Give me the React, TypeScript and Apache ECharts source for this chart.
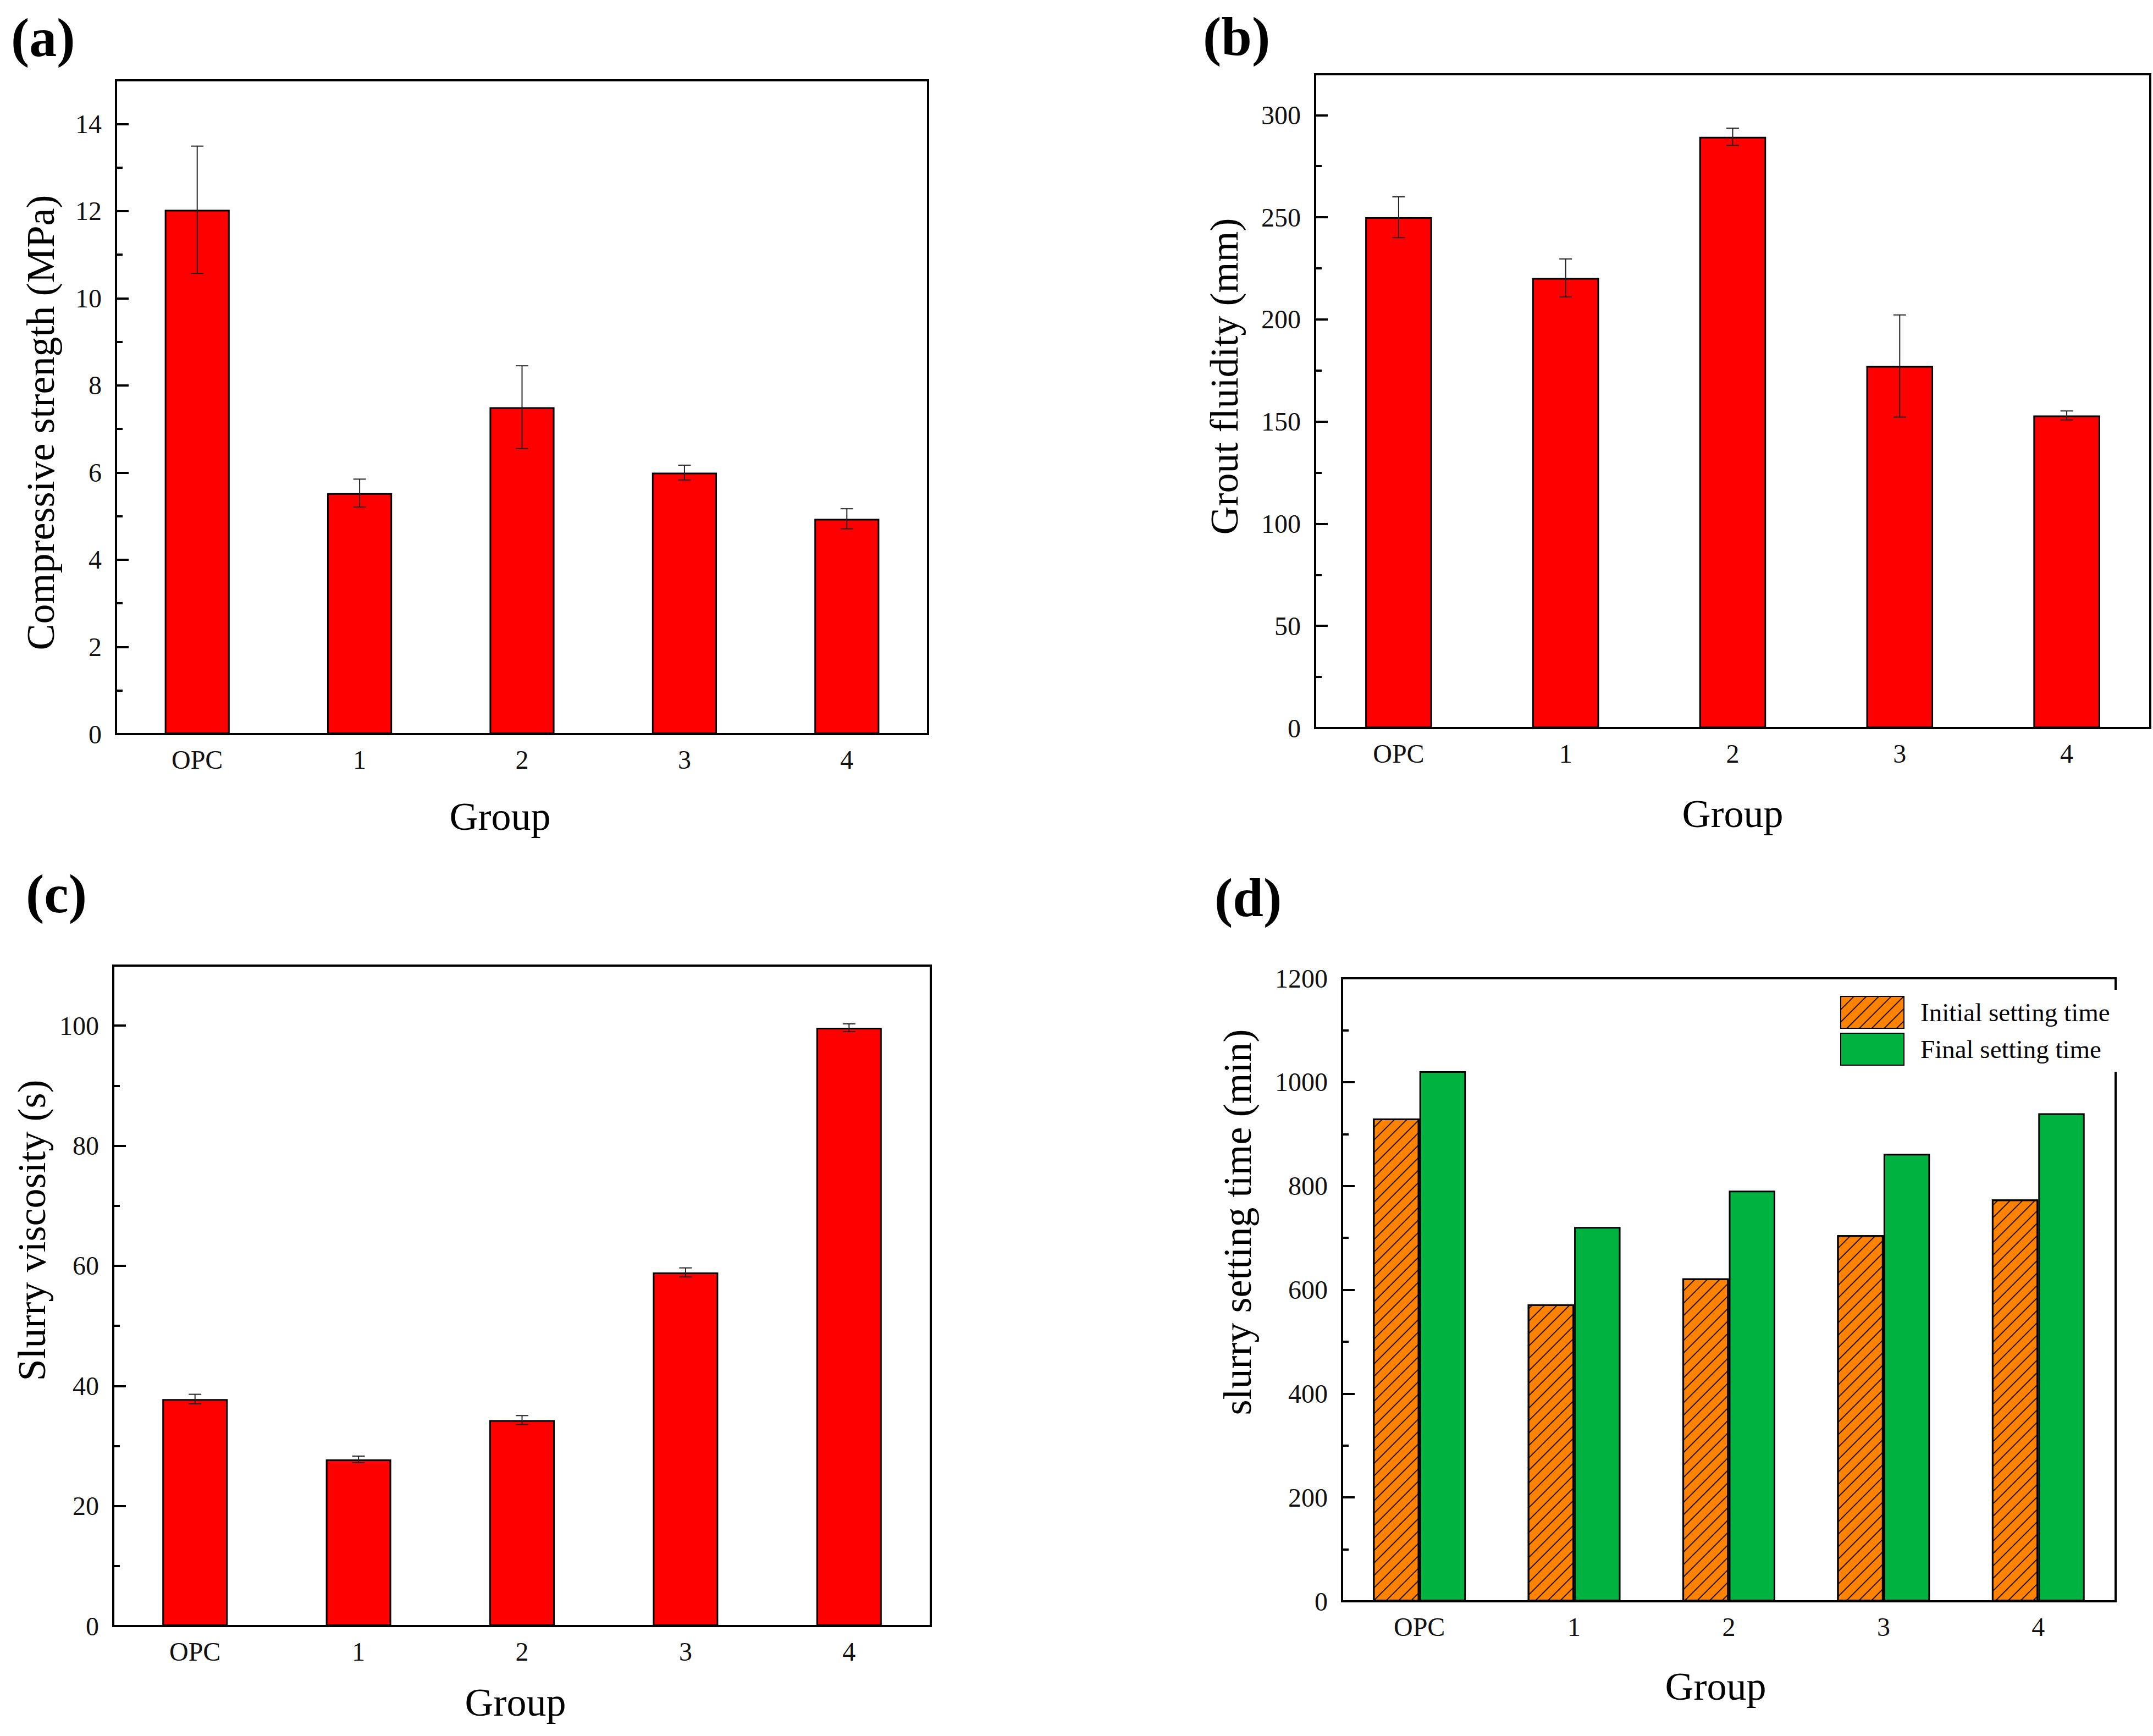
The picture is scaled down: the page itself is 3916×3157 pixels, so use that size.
import { useEffect, useRef } from 'react'
import * as echarts from 'echarts'

// 分组（横轴类别）
const groups = ['OPC', '1', '2', '3', '4']

// (a) 抗压强度 (MPa) 与误差
const strength = [12.03, 5.53, 7.5, 6.0, 4.94]
const strengthErr = [1.46, 0.32, 0.95, 0.17, 0.23]

// (b) 流动度 (mm) 与误差
const fluidity = [250, 220.3, 289.4, 177.2, 153]
const fluidityErr = [10, 9.3, 4.2, 25, 2.2]

// (c) 黏度 (s) 与误差
const viscosity = [37.8, 27.75, 34.3, 58.9, 99.65]
const viscosityErr = [0.8, 0.55, 0.75, 0.75, 0.65]

// (d) 初凝 / 终凝时间 (min)
const initialSet = [930, 572, 622, 705, 774]
const finalSet = [1021, 721, 791, 862, 940]

// 各图 Y 轴：最大值、主刻度间隔、次刻度间隔
const yMax = [15, 320, 110, 1200]
const yStep = [2, 50, 20, 200]
const yMinor = [1, 25, 10, 100]

const yNames = [
  'Compressive strength (MPa)',
  'Grout fluidity (mm)',
  'Slurry viscosity (s)',
  'slurry setting time (min)',
]
const panelTags = ['(a)', '(b)', '(c)', '(d)']

const FONT = "'Liberation Serif', 'Times New Roman', serif"

/** 误差棒：竖线 + 上下短横 */
function errorBar(_params: any, api: any) {
  const x = api.value(0)
  const low = api.coord([x, api.value(1)])
  const high = api.coord([x, api.value(2)])
  const half = 11.5
  const style = { stroke: '#222', lineWidth: 2 }
  return {
    type: 'group',
    children: [
      { type: 'line', shape: { x1: high[0], y1: high[1], x2: low[0], y2: low[1] }, style },
      { type: 'line', shape: { x1: high[0] - half, y1: high[1], x2: high[0] + half, y2: high[1] }, style },
      { type: 'line', shape: { x1: low[0] - half, y1: low[1], x2: low[0] + half, y2: low[1] }, style },
    ],
  }
}

export default function App() {
  const containerRef = useRef<HTMLDivElement>(null)

  useEffect(() => {
    document.body.style.margin = '0'
    if (!containerRef.current) return
    const chart = echarts.init(containerRef.current, null, { renderer: 'svg' })

    // 四个子图的绘图区
    const grids = [
      { left: 211, top: 146, width: 1477, height: 1189 },
      { left: 2392, top: 135, width: 1519, height: 1189 },
      { left: 206, top: 1756, width: 1487, height: 1201 },
      { left: 2441, top: 1779, width: 1407, height: 1133 },
    ].map(g => ({ ...g, show: true, borderColor: '#000', borderWidth: 4 }))

    // 轴标题位置微调
    const xNameGap = [114, 120, 103, 119]
    const xNamePad = [[0, 80, 0, 0], [0, 0, 0, 0], [0, 24, 0, 0], [0, 48, 0, 0]]
    const yNameGap = [101, 129, 112, 154]
    const yNamePad = [[0, 56, 0, 0], [0, 0, 0, 90], [0, 0, 0, 238], [0, 0, 0, 246]]
    const tagPos = [[20, 18], [2188, 16], [47, 1575], [2209, 1582]]

    const axisLine = { show: true, lineStyle: { color: '#000', width: 4 } }
    const labelStyle = { fontFamily: FONT, fontSize: 48, color: '#111' }
    const nameStyle = { fontFamily: FONT, fontSize: 72, color: '#000' }

    const xAxis = grids.map((_, i) => ({
      type: 'category',
      gridIndex: i,
      data: groups,
      axisLine,
      axisTick: { show: false },
      axisLabel: { ...labelStyle, margin: 22 },
      splitLine: { show: false },
      name: 'Group',
      nameLocation: 'middle',
      nameGap: xNameGap[i],
      nameTextStyle: { ...nameStyle, padding: xNamePad[i] },
    }))

    // 每个子图两根 Y 轴：主刻度（带标签）+ 次刻度（短刻度线）
    const yAxis: any[] = []
    grids.forEach((_, i) => {
      yAxis.push({
        type: 'value',
        gridIndex: i,
        position: 'left',
        min: 0,
        max: yMax[i],
        interval: yStep[i],
        axisLine,
        axisTick: { show: true, inside: true, length: 23, lineStyle: { color: '#000', width: 4 } },
        axisLabel: {
          ...labelStyle,
          margin: 26,
          showMaxLabel: yMax[i] % yStep[i] === 0,
          formatter: (v: number) => String(v),
        },
        splitLine: { show: false },
        name: yNames[i],
        nameLocation: 'middle',
        nameGap: yNameGap[i],
        nameTextStyle: { ...nameStyle, padding: yNamePad[i] },
      })
      yAxis.push({
        type: 'value',
        gridIndex: i,
        position: 'left',
        min: 0,
        max: yMax[i],
        interval: yMinor[i],
        axisLine: { show: false },
        axisTick: { show: true, inside: true, length: 12, lineStyle: { color: '#000', width: 4 } },
        axisLabel: { show: false },
        splitLine: { show: false },
      })
    })

    const redBars = [strength, fluidity, viscosity]
    const redErrs = [strengthErr, fluidityErr, viscosityErr]
    const series: any[] = []
    redBars.forEach((values, i) => {
      series.push({
        type: 'bar',
        xAxisIndex: i,
        yAxisIndex: i * 2,
        barWidth: '40%',
        data: values,
        itemStyle: { color: '#FF0000', borderColor: '#000', borderWidth: 3 },
        z: 2,
      })
      series.push({
        type: 'custom',
        xAxisIndex: i,
        yAxisIndex: i * 2,
        renderItem: errorBar,
        encode: { x: 0, y: [1, 2] },
        data: values.map((v, k) => [k, v - redErrs[i][k], v + redErrs[i][k]]),
        z: 5,
      })
    })

    // (d) 初凝（斜线填充）与终凝
    series.push({
      name: 'Initial setting time',
      type: 'bar',
      xAxisIndex: 3,
      yAxisIndex: 6,
      barWidth: '30%',
      barGap: '0%',
      data: initialSet,
      itemStyle: {
        color: '#FF8200',
        borderColor: '#000',
        borderWidth: 3,
        decal: {
          symbol: 'rect',
          symbolSize: 1,
          dashArrayX: [1, 0],
          dashArrayY: [2, 14],
          rotation: -Math.PI / 4,
          color: 'rgba(0,0,0,0.85)',
        },
      },
    })
    series.push({
      name: 'Final setting time',
      type: 'bar',
      xAxisIndex: 3,
      yAxisIndex: 6,
      barWidth: '30%',
      barGap: '0%',
      data: finalSet,
      itemStyle: { color: '#00B240', borderColor: '#000', borderWidth: 3 },
    })

    const option: any = {
      animation: false,
      backgroundColor: '#fff',
      grid: grids,
      xAxis,
      yAxis,
      legend: {
        data: ['Initial setting time', 'Final setting time'],
        orient: 'vertical',
        left: 3337,
        top: 1800,
        padding: [11, 14, 11, 10],
        itemWidth: 115,
        itemHeight: 58,
        itemGap: 7,
        icon: 'rect',
        backgroundColor: '#fff',
        itemStyle: { borderColor: '#000', borderWidth: 2 },
        textStyle: { fontFamily: FONT, fontSize: 47, color: '#000', padding: [0, 0, 0, 25] },
        z: 10,
      },
      graphic: panelTags.map((t, i) => ({
        type: 'text',
        left: tagPos[i][0],
        top: tagPos[i][1],
        style: { text: t, font: `bold 100px ${FONT}`, fill: '#000' },
      })),
      series,
    }

    chart.setOption(option)
    return () => chart.dispose()
  }, [])

  return <div ref={containerRef} style={{ width: 3916, height: 3157 }} />
}
